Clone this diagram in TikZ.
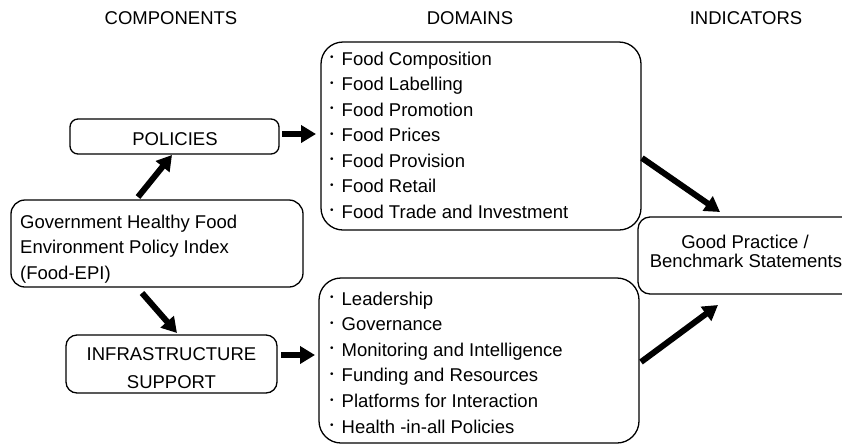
\documentclass[tikz,border=0pt]{standalone}
\usepackage{fontspec}
\setmainfont{Liberation Sans}
\usetikzlibrary{arrows.meta}
\newcommand{\itembul}{\makebox[11.5pt][l]{\raisebox{4.3pt}{\fontsize{10}{10}\selectfont •}}}
\begin{document}
\begin{tikzpicture}[x=1pt,y=-1pt,
  box/.style={draw, line width=1.3pt, inner sep=0pt, outer sep=0pt},
  lbl/.style={inner sep=0pt, anchor=base, font=\fontsize{18.5}{22}\selectfont},
  item/.style={inner sep=0pt, anchor=base west, font=\fontsize{18.5}{22}\selectfont},
  bigarrow/.style={line width=6pt, -{Triangle[length=15pt,width=17pt]}},
]
\useasboundingbox (0,0) rectangle (842,445);

% headers
\node[lbl] (hcomp) at (171,24) {COMPONENTS};
\node[lbl] (hdom) at (470,24) {DOMAINS};
\node[lbl] (hind) at (746,24) {INDICATORS};

% boxes
\node[box, rounded corners=8pt, minimum width=209pt, minimum height=35pt] (pol) at (174.5,136.5) {};
\node[box, rounded corners=14pt, minimum width=292pt, minimum height=87pt] (epi) at (157,243.5) {};
\node[box, rounded corners=11pt, minimum width=211pt, minimum height=58pt] (inf) at (171.5,364) {};
\node[box, rounded corners=22pt, minimum width=320pt, minimum height=188pt] (dom1) at (481,136) {};
\node[box, rounded corners=22pt, minimum width=320pt, minimum height=165pt] (dom2) at (479,360.5) {};
\node[box, rounded corners=12pt, minimum width=262pt, minimum height=77pt] (good) at (769,255.5) {};

% box texts
\node[lbl] (tpol) at (175,145) {POLICIES};
\node[item] (tepi1) at (20,228) {Government Healthy Food};
\node[item] (tepi2) at (20,253.5) {Environment Policy Index};
\node[item] (tepi3) at (20,279) {(Food-EPI)};
\node[lbl] (tinf1) at (171.5,360) {INFRASTRUCTURE};
\node[lbl] (tinf2) at (171.5,388) {SUPPORT};
\node[lbl] (tgood1) at (745,248) {Good Practice /};
\node[lbl] (tgood2) at (746,267) {Benchmark Statements};

\foreach \t [count=\i] in {Food Composition, Food Labelling, Food Promotion, Food Prices, Food Provision, Food Retail, Food Trade and Investment}
  \node[item] (da\i) at (330, {65+25.5*(\i-1)}) {\itembul\t};

\foreach \t [count=\i] in {Leadership, Governance, Monitoring and Intelligence, Funding and Resources, Platforms for Interaction, Health -in-all Policies}
  \node[item] (db\i) at (330, {305+25.6*(\i-1)}) {\itembul\t};

% arrows
\draw[bigarrow] ([xshift=-19pt,yshift=3pt]epi.north) -- ([xshift=-2.5pt,yshift=-1pt]pol.south);
\draw[bigarrow] ([xshift=-15pt,yshift=-6pt]epi.south) -- ([xshift=5.5pt,yshift=2pt]inf.north);
\draw[bigarrow] ([xshift=3pt,yshift=2.5pt]pol.east) -- ([xshift=-5pt,yshift=2pt]dom1.west);
\draw[bigarrow] ([xshift=4pt,yshift=9pt]inf.east) -- ([xshift=-4pt,yshift=5.5pt]dom2.west);
\draw[bigarrow] ([xshift=1pt,yshift=-22pt]dom1.east) -- ([xshift=82pt,yshift=5pt]good.north west);
\draw[bigarrow] ([xshift=2pt,yshift=-1.5pt]dom2.east) -- ([xshift=80pt,yshift=-11pt]good.south west);
\end{tikzpicture}
\end{document}
